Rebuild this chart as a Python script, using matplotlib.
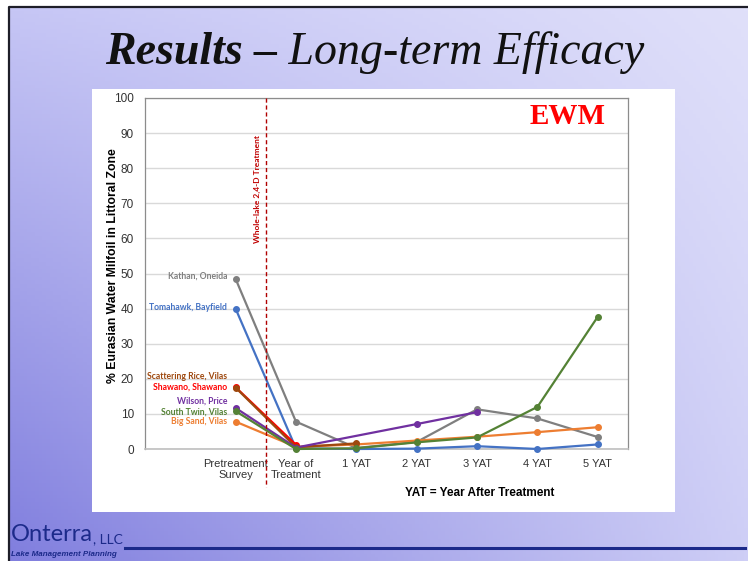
"""Long-term EWM efficacy after whole-lake 2,4-D treatment."""
import matplotlib

matplotlib.use("Agg")

import matplotlib.pyplot as plt
import numpy as np
from matplotlib.patches import Rectangle

W, H = 748, 561

categories = [
    "Pretreatment\nSurvey", "Year of\nTreatment",
    "1 YAT", "2 YAT", "3 YAT", "4 YAT", "5 YAT",
]

nan = np.nan

kathan = [48.5, 7.8, 0.3, 2.0, 11.3, 8.7, 3.4]
tomahawk = [40.0, 0.2, 0.0, 0.1, 0.8, 0.0, 1.3]
big_sand = [7.8, 0.6, 1.3, 2.4, 3.5, 4.8, 6.2]
shawano = [17.6, 1.2, nan, nan, nan, nan, nan]
scattering_rice = [17.5, 0.5, 1.6, nan, nan, nan, nan]
wilson = [11.7, 0.4, nan, 7.1, 10.5, nan, nan]
south_twin = [10.8, 0.0, 0.2, 1.9, 3.3, 12.0, 37.7]

lake_names = [
    "Kathan, Oneida", "Tomahawk, Bayfield", "Big Sand, Vilas",
    "Shawano, Shawano", "Scattering Rice, Vilas", "Wilson, Price",
    "South Twin, Vilas",
]

# (values, colour, label height on the y axis)
series = [
    (kathan, "#7f7f7f", 49.3),
    (tomahawk, "#4472c4", 40.2),
    (big_sand, "#ed7d31", 7.7),
    (shawano, "#ff0000", 17.7),
    (scattering_rice, "#9e480e", 20.6),
    (wilson, "#7030a0", 13.7),
    (south_twin, "#548235", 10.6),
]

fig = plt.figure(figsize=(W / 100, H / 100), dpi=100)

# slide background: lavender gradient, darker towards the lower left
bg = fig.add_axes([0, 0, 1, 1])
bg.set_xlim(0, W)
bg.set_ylim(H, 0)
bg.axis("off")
tl = np.array([198, 198, 245]) / 255
tr = np.array([224, 224, 250]) / 255
bl = np.array([128, 126, 222]) / 255
br = np.array([206, 206, 246]) / 255
u = np.linspace(0, 1, 200)[None, :, None]
v = np.linspace(0, 1, 150)[:, None, None]
grad = (1 - v) * ((1 - u) * tl + u * tr) + v * ((1 - u) * bl + u * br)
bg.imshow(grad, extent=(9, W, H, 7), aspect="auto", zorder=0)
bg.plot([9, 9, W], [H, 7, 7], color="#1e1e28", lw=1.6, zorder=1)

# white chart panel
bg.add_patch(Rectangle((92, 89), 583, 423, facecolor="white", edgecolor="none", zorder=2))

# title in two weights
title = bg.text(105, 64, "Results \u2013", fontsize=33, fontweight="bold",
                fontstyle="italic", family="Liberation Serif", va="baseline",
                color="#111111", zorder=3)
bg.annotate(" Long-term Efficacy", xy=(1, 0), xycoords=title, va="bottom",
            ha="left", fontsize=33, fontstyle="italic", family="Liberation Serif",
            color="#111111", zorder=3)

# footer
logo = bg.text(11, 541, "Onterra", fontsize=17, family="Lato", color="#1c2a8a",
               va="baseline", zorder=3)
bg.annotate(", LLC", xy=(1, 0), xycoords=logo, va="bottom", fontsize=10,
            family="Lato", color="#1c2a8a", zorder=3)
bg.text(11, 556, "Lake Management Planning", fontsize=5.8, fontweight="bold",
        fontstyle="italic", family="Liberation Sans", color="#1c2a8a",
        va="baseline", zorder=3)
bg.plot([125, 745], [548, 548], color="#1c2a8a", lw=2.2, zorder=3)

ax = fig.add_axes([145 / W, 1 - 449 / H, (628 - 145) / W, (449 - 98) / H])
ax.set_facecolor("white")
ax.set_xlim(-1.5, 6.5)
ax.set_ylim(0, 100)
ax.set_yticks(range(0, 101, 10))
ax.set_xticks(range(len(categories)))
ax.set_xticklabels(categories, fontsize=8, family="Liberation Sans", color="#333333")
ax.tick_params(axis="y", labelsize=8.5, labelcolor="#333333", length=0, pad=8)
ax.tick_params(axis="x", length=0, pad=7)
for lab in ax.get_yticklabels():
    lab.set_family("Liberation Sans")
ax.grid(axis="y", color="#d9d9d9", lw=1)
ax.set_axisbelow(True)
for side in ("left", "top", "right"):
    ax.spines[side].set_color("#8c8c8c")
    ax.spines[side].set_linewidth(0.9)
ax.spines["bottom"].set_color("#bfbfbf")
ax.spines["bottom"].set_linewidth(1.2)

ax.set_ylabel("% Eurasian Water Milfoil in Littoral Zone", fontsize=8.8,
              fontweight="bold", family="Liberation Sans")
ax.yaxis.set_label_coords(-0.053, 0.523)
ax.set_xlabel("YAT = Year After Treatment", fontsize=8.5, fontweight="bold",
              family="Liberation Sans")
ax.xaxis.set_label_coords(0.692, -0.109)

x = np.arange(len(categories))
for (values, color, label_y), name in zip(series, lake_names):
    vals = np.array(values, dtype=float)
    ok = ~np.isnan(vals)
    ax.plot(x[ok], vals[ok], color=color, lw=1.6, marker="o", ms=4,
            clip_on=False, zorder=3)
    ax.annotate(name, xy=(0, label_y), xytext=(-6, 0), textcoords="offset points",
                ha="right", va="center", fontsize=6.2, fontweight="bold",
                family="Lato", color=color)

# treatment marker between pretreatment and year of treatment
ax.plot([0.5, 0.5], [100, -10.8], color="#b00000", lw=1, ls=(0, (3, 2)),
        clip_on=False, zorder=4)
ax.text(0.37, 74, "Whole-lake 2,4-D Treatment", rotation=90, ha="center",
        va="center", fontsize=6, fontweight="bold", family="Lato",
        color="#c00000")

ax.text(5.5, 94.7, "EWM", ha="center", va="center", fontsize=21,
        fontweight="bold", family="Liberation Serif", color="#ff0000")

fig.savefig("out.png", dpi=100)
